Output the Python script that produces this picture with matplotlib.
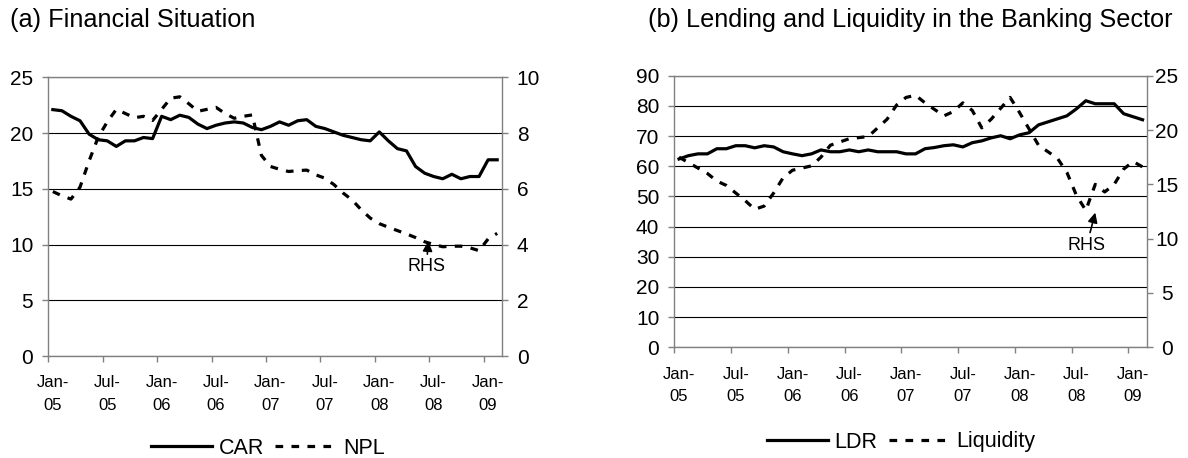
import numpy as np
import matplotlib
matplotlib.use("Agg")
import matplotlib.pyplot as plt
from matplotlib import font_manager as fm
from matplotlib.lines import Line2D
from matplotlib.ticker import FixedLocator, FixedFormatter, NullFormatter

# ---------------- data (monthly, Jan-05 .. Feb-09) ----------------
tick_labels = ["Jan-\n05", "Jul-\n05", "Jan-\n06", "Jul-\n06", "Jan-\n07",
               "Jul-\n07", "Jan-\n08", "Jul-\n08", "Jan-\n09"]

car = [22.1, 22.0, 21.5, 21.1, 19.9, 19.4, 19.3, 18.8, 19.3, 19.3,
       19.6, 19.5, 21.5, 21.2, 21.6, 21.4, 20.8, 20.4, 20.7, 20.9,
       21.0, 20.9, 20.5, 20.3, 20.6, 21.0, 20.7, 21.1, 21.2, 20.6,
       20.4, 20.1, 19.8, 19.6, 19.4, 19.3, 20.1, 19.3, 18.6, 18.4,
       17.0, 16.4, 16.1, 15.9, 16.3, 15.9, 16.1, 16.1, 17.6, 17.6]

npl = [5.9, 5.75, 5.63, 6.06, 7.0, 7.85, 8.4, 8.85, 8.7, 8.55,
       8.6, 8.45, 8.85, 9.25, 9.3, 9.05, 8.78, 8.85, 8.92, 8.7,
       8.53, 8.6, 8.65, 7.2, 6.8, 6.7, 6.62, 6.65, 6.67, 6.5,
       6.38, 6.15, 5.85, 5.6, 5.25, 4.95, 4.75, 4.62, 4.5, 4.38,
       4.25, 4.1, 4.0, 3.92, 3.94, 3.94, 3.88, 3.78, 4.2, 4.4]

ldr = [62.4, 63.5, 64.1, 64.1, 65.8, 65.8, 66.8, 66.8, 66.1, 66.8,
       66.4, 64.8, 64.1, 63.5, 64.1, 65.4, 64.8, 64.8, 65.4, 64.8,
       65.4, 64.8, 64.8, 64.8, 64.1, 64.1, 65.8, 66.2, 66.8, 67.1,
       66.4, 67.8, 68.4, 69.4, 70.1, 69.1, 70.4, 71.1, 73.7, 74.7,
       75.7, 76.7, 79.0, 81.7, 80.7, 80.7, 80.7, 77.4, 76.4, 75.4]

liquidity = [17.5, 17.0, 16.5, 16.0, 15.3, 14.9, 14.2, 13.5, 12.7, 13.0,
             14.2, 15.6, 16.3, 16.5, 16.7, 17.5, 18.6, 18.9, 19.2, 19.3,
             19.4, 20.2, 21.0, 22.3, 23.0, 23.2, 22.5, 21.9, 21.3, 21.7,
             22.5, 21.8, 20.2, 21.0, 22.0, 23.0, 21.6, 20.1, 18.6, 18.0,
             17.4, 16.1, 14.0, 12.6, 15.0, 14.3, 15.0, 16.4, 17.1, 16.6]

# ---------------- fonts ----------------
names = {f.name for f in fm.fontManager.ttflist}
NARROW_OK = "Liberation Sans Narrow" in names
REG = "Liberation Sans"
if NARROW_OK:
    NARROW = "Liberation Sans Narrow"
    FS_Y, FS_X, FS_LEG, FS_RHS = 17, 13.5, 18, 15
else:
    NARROW = REG
    FS_Y, FS_X, FS_LEG, FS_RHS = 15, 12, 15.5, 13

W, H = 1188, 458
fig = plt.figure(figsize=(W / 100, H / 100), dpi=100)

GRAY = "#808080"
LW = 2.3
DASH = (0, (2.4, 2.6))
PX = 72 / 100  # points per pixel


def px_axes(x0, y0, x1, y1):
    return fig.add_axes([x0 / W, 1 - y1 / H, (x1 - x0) / W, (y1 - y0) / H])


def setup(ax, axr, yl, yls, yr, yrs, rpad_px, r_center=False):
    n = len(car)
    ax.set_xlim(-0.5, n - 0.5)
    ax.set_ylim(*yl)
    axr.set_ylim(*yr)
    ax.set_yticks(np.arange(yl[0], yl[1] + 0.001, yls))
    axr.set_yticks(np.arange(yr[0], yr[1] + 0.001, yrs))
    # x ticks: marks at category boundaries, labels centred on categories
    step = 6
    ax.xaxis.set_major_locator(FixedLocator(np.arange(-0.5, n - 1, step)))
    ax.xaxis.set_major_formatter(NullFormatter())
    ax.xaxis.set_minor_locator(FixedLocator(np.arange(0, len(tick_labels) * step, step)))
    ax.xaxis.set_minor_formatter(FixedFormatter(tick_labels))
    ax.tick_params(axis="x", which="major", direction="out", length=6 * PX,
                   width=1, color=GRAY)
    ax.tick_params(axis="x", which="minor", length=0, pad=14,
                   labelsize=FS_X)
    for lab in ax.xaxis.get_minorticklabels():
        lab.set_family(NARROW)
        lab.set_linespacing(1.6)
    ax.tick_params(axis="y", direction="out", length=6 * PX, width=1,
                   color=GRAY, pad=6.5, labelsize=FS_Y)
    axr.tick_params(axis="y", direction="out", length=6 * PX, width=1,
                    color=GRAY, pad=rpad_px * PX, labelsize=FS_Y)
    for lab in ax.get_yticklabels() + axr.get_yticklabels():
        lab.set_family(NARROW)
    if r_center:
        for t in axr.yaxis.get_major_ticks():
            t.label2.set_horizontalalignment("center")
    ax.yaxis.grid(True, color="black", lw=0.8)
    for s in ["left", "bottom", "top"]:
        ax.spines[s].set_color(GRAY)
        ax.spines[s].set_linewidth(1.0)
    ax.spines["right"].set_visible(False)
    for s in ["left", "bottom", "top"]:
        axr.spines[s].set_visible(False)
    axr.spines["right"].set_color(GRAY)
    axr.spines["right"].set_linewidth(1.0)
    ax.set_facecolor("none")


x = np.arange(len(car))
ARROW = dict(arrowstyle="-|>,head_length=0.45,head_width=0.22",
             color="black", lw=1.2, shrinkA=1, shrinkB=0)

# ---------------- panel (a) ----------------
axA = px_axes(48.3, 77.3, 501.7, 356.0)
axAr = axA.twinx()
setup(axA, axAr, (0, 25), 5, (0, 10), 2, rpad_px=9)
axA.plot(x, car, color="black", lw=LW)
axAr.plot(x, npl, color="black", lw=LW, linestyle=DASH)
axAr.annotate("RHS", xy=(41.4, 4.12), xytext=(41.2, 3.2), ha="center",
              va="center", fontsize=FS_RHS, family=NARROW, arrowprops=ARROW)

# ---------------- panel (b) ----------------
axB = px_axes(674.3, 75.7, 1147.3, 347.3)
axBr = axB.twinx()
setup(axB, axBr, (0, 90), 10, (0, 25), 5, rpad_px=13.5, r_center=True)
axB.plot(x, ldr, color="black", lw=LW)
axBr.plot(x, liquidity, color="black", lw=LW, linestyle=DASH)
axBr.annotate("RHS", xy=(44.0, 12.4), xytext=(43.1, 9.4), ha="center",
              va="center", fontsize=FS_RHS, family=NARROW, arrowprops=ARROW)

# ---------------- titles ----------------
fig.text(10 / W, 1 - 27 / H, "(a) Financial Situation", fontsize=18.2,
         family=REG, va="baseline", ha="left")
fig.text(648 / W, 1 - 27 / H, "(b) Lending and Liquidity in the Banking Sector",
         fontsize=18.2, family=REG, va="baseline", ha="left")

# ---------------- legends ----------------
def legend(labels, cx, cy):
    handles = [Line2D([], [], color="black", lw=LW),
               Line2D([], [], color="black", lw=LW, linestyle=DASH)]
    em = FS_LEG * 100 / 72
    fig.legend(handles, labels, loc="center", bbox_to_anchor=(cx / W, 1 - cy / H),
               ncol=2, frameon=False, handlelength=61 / em,
               handletextpad=7 / em, columnspacing=11 / em,
               borderpad=0, borderaxespad=0,
               prop=dict(family=NARROW, size=FS_LEG))

legend(["CAR", "NPL"], 268, 448)
legend(["LDR", "Liquidity"], 901, 442)

fig.savefig("out.png", dpi=100, facecolor="white")
